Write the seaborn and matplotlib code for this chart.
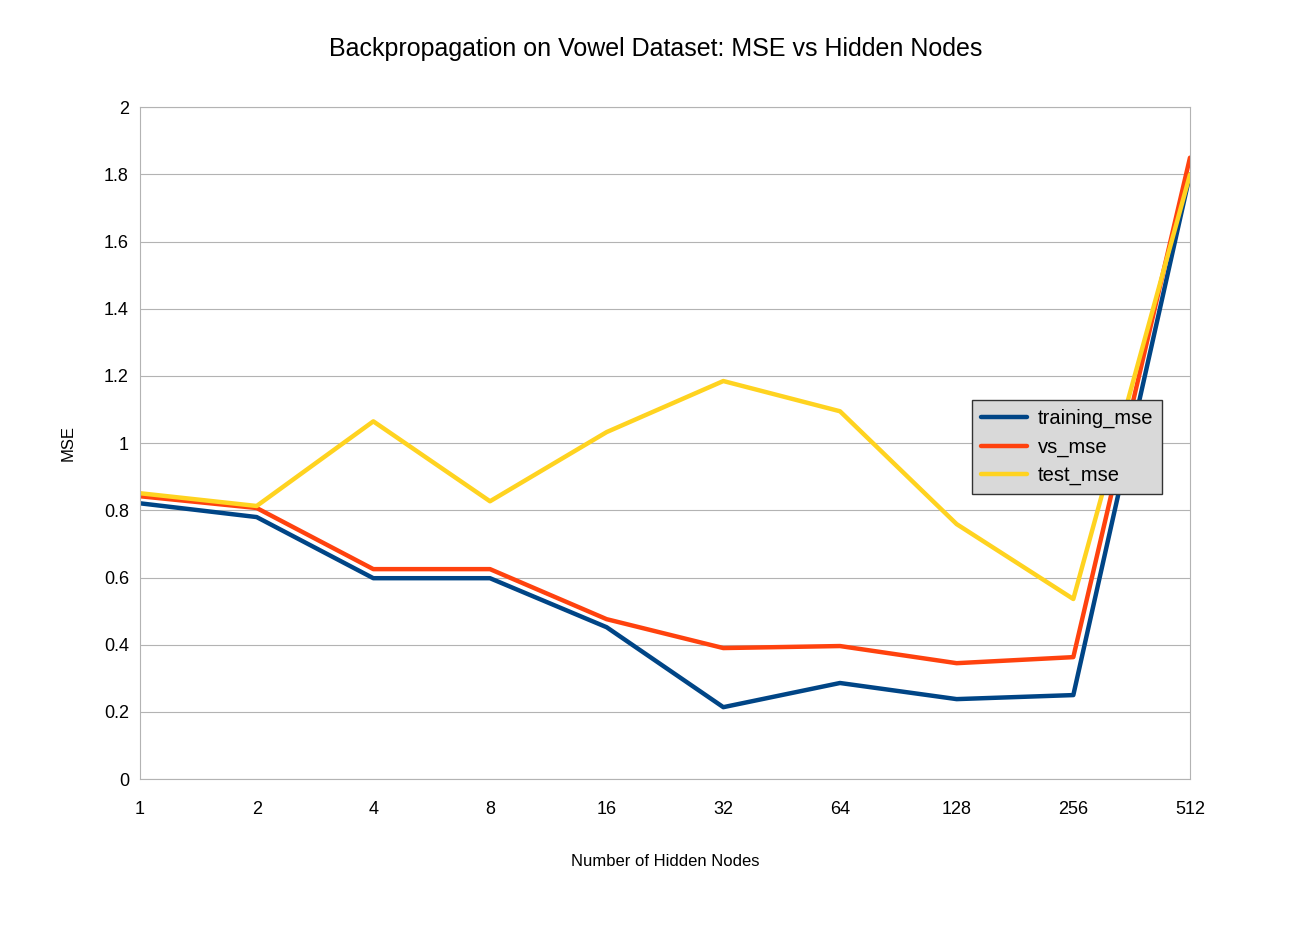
import matplotlib
matplotlib.use("Agg")
import matplotlib.pyplot as plt
import pandas as pd
import seaborn as sns

hidden_nodes = ['1', '2', '4', '8', '16', '32', '64', '128', '256', '512']
training_mse = [0.821, 0.780, 0.598, 0.598, 0.452, 0.214, 0.286, 0.238, 0.250, 1.80]
vs_mse = [0.842, 0.807, 0.625, 0.625, 0.476, 0.390, 0.396, 0.345, 0.363, 1.85]
test_mse = [0.851, 0.813, 1.065, 0.827, 1.033, 1.185, 1.095, 0.759, 0.536, 1.80]

df = pd.DataFrame({
    'pos': list(range(len(hidden_nodes))) * 3,
    'mse': training_mse + vs_mse + test_mse,
    'series': ['training_mse'] * 10 + ['vs_mse'] * 10 + ['test_mse'] * 10,
})

sns.set_theme(style="white")
plt.rcParams['font.family'] = ['Liberation Sans', 'DejaVu Sans']
plt.rcParams['text.color'] = 'black'
plt.rcParams['axes.labelcolor'] = 'black'
plt.rcParams['xtick.color'] = 'black'
plt.rcParams['ytick.color'] = 'black'

fig = plt.figure(figsize=(13.12, 9.33), dpi=100)
ax = fig.add_axes([0.1067, 0.165, 0.8003, 0.72])

colors = {'training_mse': '#004586', 'vs_mse': '#ff420e', 'test_mse': '#ffd320'}
sns.lineplot(data=df, x='pos', y='mse', hue='series', palette=colors, linewidth=3.2, ax=ax)

ax.set_xlim(0, 9)
ax.set_ylim(0, 2)
ax.set_xticks(range(10))
ax.set_xticklabels(hidden_nodes)
ax.set_yticks([0, 0.2, 0.4, 0.6, 0.8, 1, 1.2, 1.4, 1.6, 1.8, 2])
ax.set_yticklabels(['0', '0.2', '0.4', '0.6', '0.8', '1', '1.2', '1.4', '1.6', '1.8', '2'])
ax.tick_params(axis='y', labelsize=13, length=0, pad=8)
ax.tick_params(axis='x', labelsize=13, length=0, pad=16)
ax.yaxis.grid(True, color='#b3b3b3', linewidth=0.8)
ax.set_axisbelow(True)
for s in ['top', 'right', 'left', 'bottom']:
    ax.spines[s].set_color('#b3b3b3')
    ax.spines[s].set_linewidth(0.8)

ax.set_xlabel('Number of Hidden Nodes', fontsize=12, labelpad=26)
ax.set_ylabel('MSE', fontsize=12, labelpad=20)
fig.suptitle('Backpropagation on Vowel Dataset: MSE vs Hidden Nodes', fontsize=18, y=0.96)

leg = ax.legend(loc='upper left', bbox_to_anchor=(0.7925, 0.564), fontsize=14.5,
                frameon=True, fancybox=False, handlelength=2.3, borderpad=0.45,
                labelspacing=0.45, handletextpad=0.5, borderaxespad=0)
leg.get_frame().set_facecolor('#d9d9d9')
leg.get_frame().set_edgecolor('#333333')
leg.get_frame().set_alpha(1)

fig.savefig('out.png', dpi=100)
